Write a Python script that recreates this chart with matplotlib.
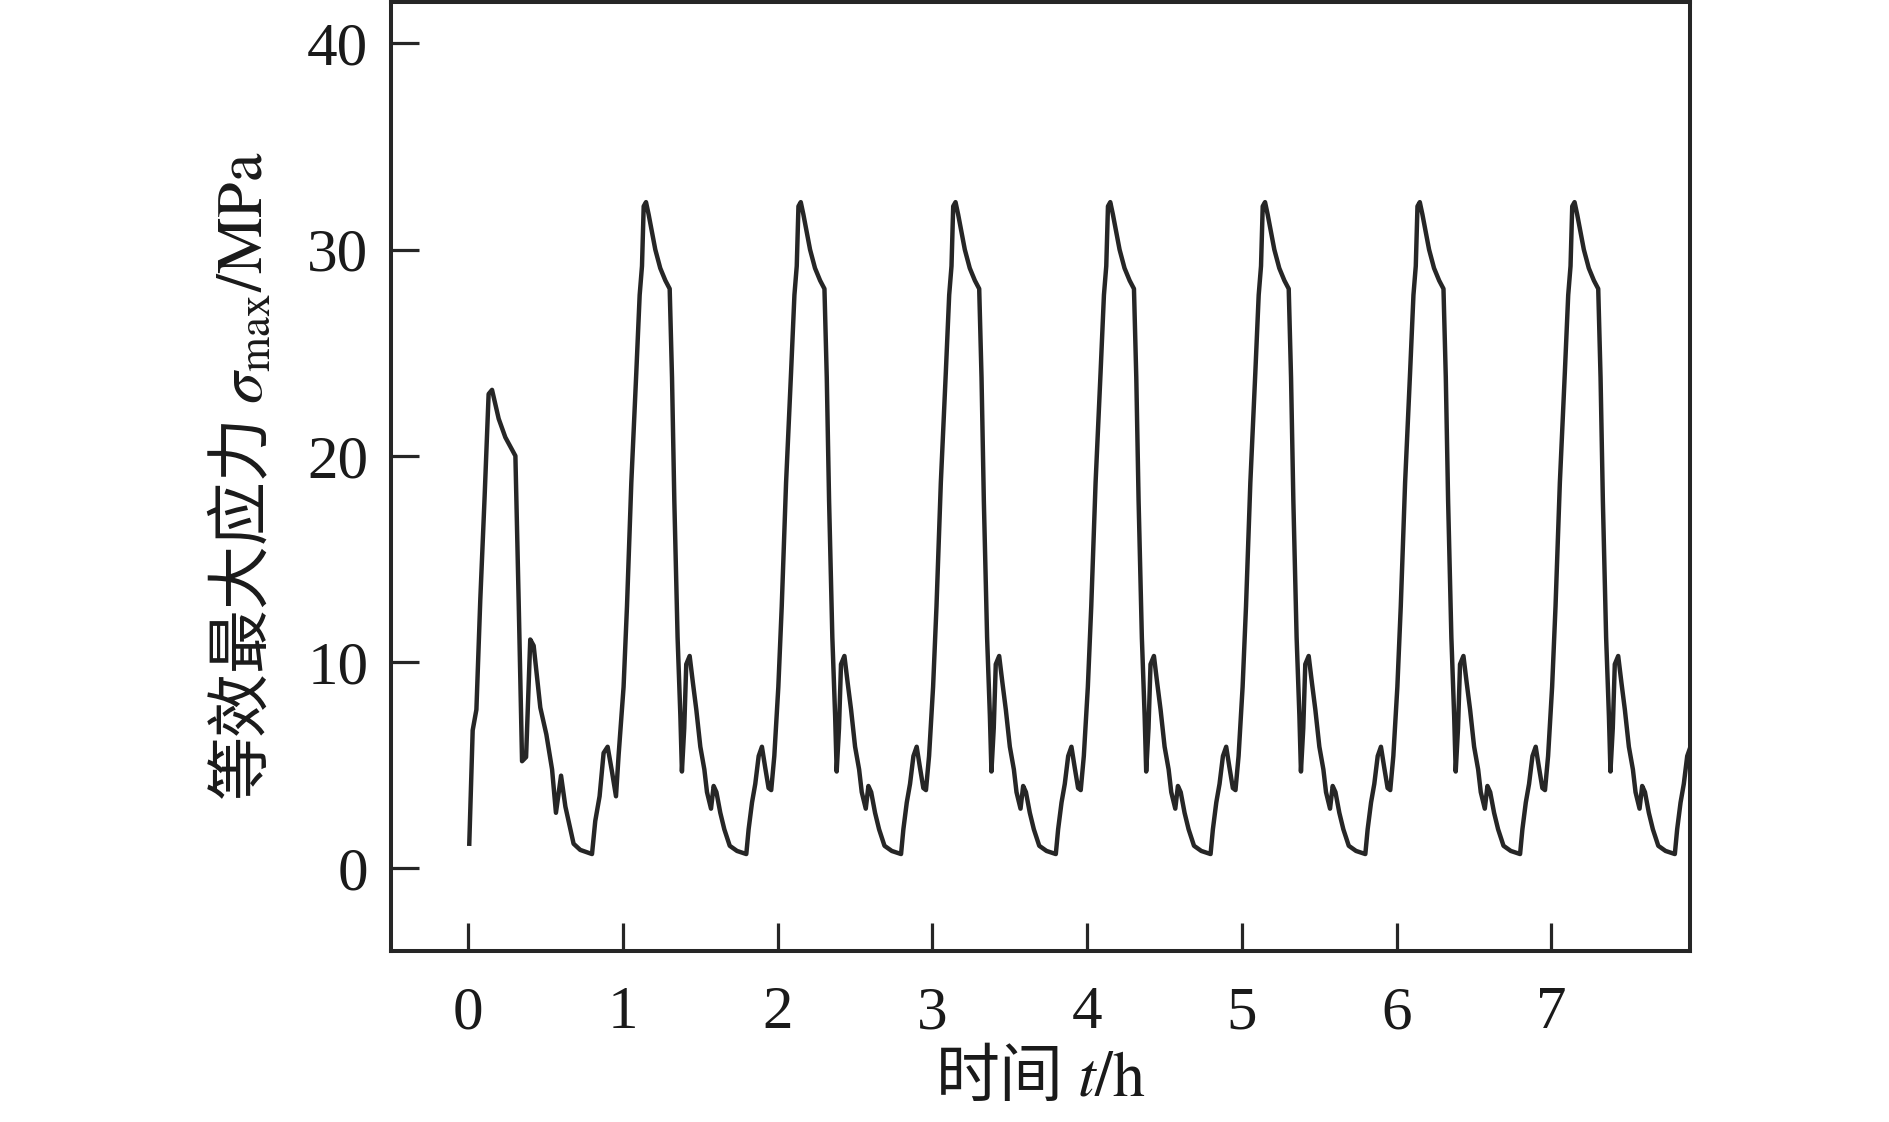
import numpy as np
import matplotlib
matplotlib.use("Agg")
import matplotlib.pyplot as plt

plt.rcParams['font.family'] = ['Liberation Serif', 'Noto Sans CJK SC']
plt.rcParams['mathtext.fontset'] = 'stix'

INK = '#262626'

# first hour (start-up cycle), time in h, stress in MPa
t_first = [0.008, 0.030, 0.054, 0.079, 0.107, 0.133, 0.155, 0.198, 0.241,
           0.306, 0.327, 0.349, 0.375, 0.402, 0.424, 0.467, 0.506, 0.543,
           0.568, 0.601, 0.629, 0.682, 0.725, 0.801, 0.822, 0.850, 0.876,
           0.902, 0.930, 0.956, 0.973]
s_first = [1.2, 6.7, 7.7, 13.0, 18.0, 23.0, 23.2, 21.8, 20.9,
           20.0, 13.0, 5.2, 5.4, 11.1, 10.8, 7.8, 6.5, 4.8,
           2.7, 4.5, 3.0, 1.2, 0.9, 0.7, 2.3, 3.5, 5.6,
           5.9, 4.7, 3.5, 5.5]

# steady cycle, phase within each hour (h) and stress (MPa)
phase_cycle = [0.005, 0.027, 0.055, 0.087, 0.109, 0.124, 0.135, 0.150, 0.167,
               0.182, 0.210, 0.242, 0.275, 0.303, 0.318, 0.333, 0.354, 0.372,
               0.382, 0.397, 0.410, 0.432, 0.453, 0.475, 0.501, 0.527, 0.544,
               0.570, 0.587, 0.605, 0.630, 0.656, 0.691, 0.738, 0.798, 0.813,
               0.835, 0.856, 0.878, 0.899, 0.920, 0.942, 0.959, 0.979]
s_cycle = [8.8, 12.7, 18.7, 24.0, 27.8, 29.2, 32.1, 32.3, 31.7,
           31.1, 30.0, 29.1, 28.5, 28.1, 23.8, 17.8, 11.2, 7.4,
           4.7, 6.8, 9.9, 10.3, 9.0, 7.7, 5.9, 4.8, 3.7,
           2.9, 4.0, 3.7, 2.7, 1.9, 1.1, 0.85, 0.7, 1.9,
           3.2, 4.1, 5.45, 5.9, 4.9, 3.9, 3.8, 5.45]
hours = [1, 2, 3, 4, 5, 6, 7]

x_ticks = [0, 1, 2, 3, 4, 5, 6, 7]
y_ticks = [0, 10, 20, 30, 40]

t_all = list(t_first)
s_all = list(s_first)
for h in hours:
    t_all += [h + p for p in phase_cycle]
    s_all += s_cycle

fig = plt.figure(figsize=(18.9, 11.22), dpi=100)
ax = fig.add_axes([0.2067, 0.1524, 0.6874, 0.8458])

ax.plot(t_all, s_all, color=INK, lw=3.2, solid_joinstyle='round')

ax.set_xlim(-0.5, 7.895)
ax.set_ylim(-4, 42)
ax.set_xticks(x_ticks)
ax.set_yticks(y_ticks)

for sp in ax.spines.values():
    sp.set_linewidth(2.9)
    sp.set_color(INK)
ax.tick_params(direction='in', length=20, width=2.3, color=INK,
               labelsize=44, labelcolor='#1a1a1a')
ax.tick_params(axis='x', pad=25)
ax.tick_params(axis='y', pad=16)

ax.set_xlabel('时间 $t/\\mathrm{h}$', family=['Noto Sans CJK SC'],
              fontsize=46, color='#1a1a1a', labelpad=2)
ax.set_ylabel('等效最大应力 $\\sigma_{\\rm max}{\\rm /MPa}$',
              family=['Noto Sans CJK SC'], fontsize=46, color='#1a1a1a',
              labelpad=22)

fig.savefig('out.png', dpi=100, facecolor='white')
